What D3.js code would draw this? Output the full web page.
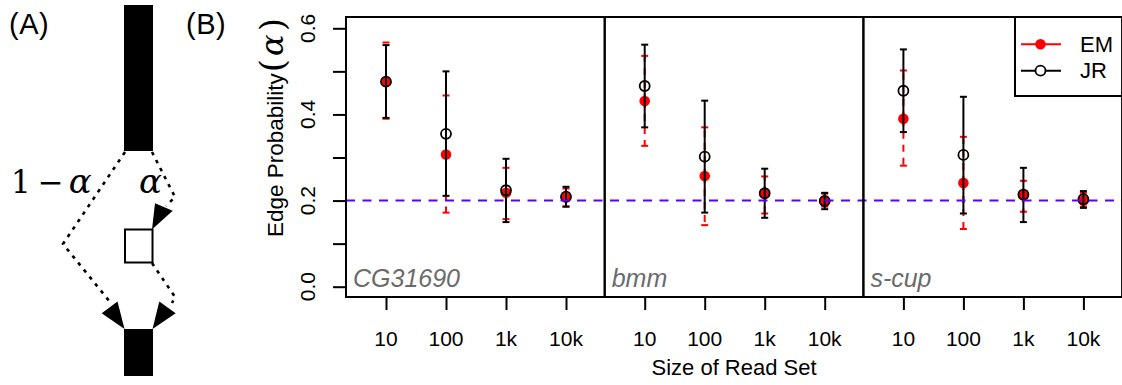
<!DOCTYPE html>
<html><head><meta charset="utf-8">
<script src="https://cdn.jsdelivr.net/npm/d3@7"></script>
<style>body{margin:0;background:#fff}svg{display:block}</style>
</head><body>
<script>
// ---- data ----
const genes = ["CG31690", "bmm", "s-cup"];
const sizes = ["10", "100", "1k", "10k"];
const emMean = [[0.476, 0.307, 0.218, 0.207], [0.431, 0.257, 0.217, 0.199], [0.390, 0.241, 0.212, 0.200]];
const emLow  = [[0.390, 0.172, 0.157, 0.186], [0.327, 0.143, 0.170, 0.186], [0.281, 0.134, 0.174, 0.186]];
const emHigh = [[0.567, 0.444, 0.276, 0.228], [0.536, 0.370, 0.256, 0.216], [0.502, 0.348, 0.246, 0.218]];
const jrMean = [[0.476, 0.355, 0.224, 0.209], [0.466, 0.302, 0.217, 0.199], [0.455, 0.306, 0.214, 0.203]];
const jrLow  = [[0.392, 0.211, 0.150, 0.186], [0.370, 0.172, 0.160, 0.180], [0.359, 0.170, 0.150, 0.183]];
const jrHigh = [[0.561, 0.500, 0.297, 0.232], [0.562, 0.432, 0.274, 0.218], [0.551, 0.441, 0.276, 0.222]];
const yTicks = [0, 0.1, 0.2, 0.3, 0.4, 0.5, 0.6];
const yTickLabels = ["0.0", "", "0.2", "", "0.4", "", "0.6"];
const refValue = 0.2;
const seriesNames = ["EM", "JR"];

// ---- layout ----
const W = 1122, H = 385;
const svg = d3.select("body").append("svg").attr("width", W).attr("height", H);
const plotL = 346, plotT = 17, plotB = 297, panelW = 258.7;
const plotR = plotL + panelW * 3;
const y = d3.scaleLinear().domain([0, 0.6]).range([286.7, 28.3]);
const font = "'Liberation Sans', Arial, Helvetica, sans-serif";
const serif = "'DejaVu Serif', 'Liberation Serif', serif";

// ---- Panel A (schematic) ----
const gA = svg.append("g");
gA.append("text").attr("x", 9).attr("y", 34).attr("font-family", font).attr("font-size", 29)
  .attr("letter-spacing", 0.5).text("(A)");
gA.append("rect").attr("x", 124).attr("y", 5).attr("width", 29).attr("height", 146).attr("fill", "#000");
gA.append("rect").attr("x", 124).attr("y", 329).attr("width", 29).attr("height", 47).attr("fill", "#000");
const dotted = {stroke: "#000", "stroke-width": 2.6, fill: "none", "stroke-dasharray": "3.5,5.5"};
function dl(pts) {
  const p = gA.append("path").attr("d", d3.line()(pts));
  Object.entries(dotted).forEach(([k, v]) => p.attr(k, v));
}
dl([[125, 152], [63, 244], [110, 302]]);
dl([[152, 152], [175, 197], [166, 206]]);
dl([[152, 263], [175, 297], [172, 303]]);
function tri(pts) { gA.append("path").attr("d", d3.line()(pts) + "Z").attr("fill", "#000"); }
tri([[101.7, 313.3], [117.5, 301.5], [124.5, 329]]);
tri([[155, 203.3], [172.7, 210.7], [152, 229.5]]);
tri([[159.3, 301.5], [175.7, 313.3], [152.5, 329]]);
gA.append("rect").attr("x", 125).attr("y", 229.5).attr("width", 27.5).attr("height", 33)
  .attr("fill", "none").attr("stroke", "#000").attr("stroke-width", 2);
const t1 = gA.append("text").attr("x", 11).attr("y", 193).attr("font-family", serif).attr("font-size", 31);
t1.append("tspan").text("1");
t1.append("tspan").attr("dx", 7).text("−");
t1.append("tspan").attr("dx", 5).attr("font-style", "italic").attr("font-size", 34).text("α");
gA.append("text").attr("x", 139).attr("y", 193).attr("font-family", serif).attr("font-size", 34)
  .attr("font-style", "italic").text("α");

// ---- Panel B ----
svg.append("text").attr("x", 186).attr("y", 34).attr("font-family", font).attr("font-size", 29)
  .attr("letter-spacing", 0.5).text("(B)");

// y axis
const yAxis = d3.axisLeft(y).tickValues(yTicks).tickSize(13).tickFormat("");
const ga = svg.append("g").attr("transform", `translate(${plotL},0)`).call(yAxis);
ga.select(".domain").remove();
ga.selectAll("line").attr("stroke", "#000").attr("stroke-width", 2);
svg.append("g").selectAll("text").data(yTicks.filter((d, i) => yTickLabels[i]))
  .join("text")
  .attr("transform", d => `translate(315,${y(d)}) rotate(-90)`)
  .attr("text-anchor", "middle").attr("font-family", font).attr("font-size", 21)
  .text(d => yTickLabels[yTicks.indexOf(d)]);

// y label
const yl = svg.append("text").attr("transform", "translate(283,237) rotate(-90)")
  .attr("font-family", font).attr("font-size", 22.5);
yl.append("tspan").text("Edge Probability");
yl.append("tspan").attr("font-family", serif).attr("font-size", 34).attr("font-weight", 200).attr("dx", 1).attr("dy", 1).text("(");
yl.append("tspan").attr("font-family", serif).attr("font-size", 32).attr("font-style", "italic").attr("dx", 3).attr("dy", -1).text("α");
yl.append("tspan").attr("font-family", serif).attr("font-size", 34).attr("font-weight", 200).attr("dx", 3).attr("dy", 1).text(")");

// x label
svg.append("text").attr("x", (plotL + plotR) / 2).attr("y", 375).attr("text-anchor", "middle")
  .attr("font-family", font).attr("font-size", 22).text("Size of Read Set");

// panels
genes.forEach((g, gi) => {
  const left = plotL + gi * panelW;
  const x = d3.scaleLinear().domain([0, 3]).range([left + 40, left + 220]);
  const xAxis = d3.axisBottom(x).tickValues([0, 1, 2, 3]).tickSize(13).tickFormat("");
  const gx = svg.append("g").attr("transform", `translate(0,${plotB})`).call(xAxis);
  gx.select(".domain").remove();
  gx.selectAll("line").attr("stroke", "#000").attr("stroke-width", 2);
  svg.append("g").selectAll("text").data(sizes).join("text")
    .attr("x", (d, i) => x(i)).attr("y", 345.5).attr("text-anchor", "middle")
    .attr("font-family", font).attr("font-size", 21).text(d => d);

  svg.append("text").attr("x", left + 7).attr("y", 286.5).attr("font-family", font)
    .attr("font-size", 25).attr("font-style", "italic").attr("fill", "#6b6b6b").text(g);

  const idx = d3.range(sizes.length);
  const cap = 3.5;
  // EM error bars (red dashed)
  const em = svg.append("g");
  em.selectAll("line.v").data(idx).join("line").attr("class", "v")
    .attr("x1", i => x(i)).attr("x2", i => x(i))
    .attr("y1", i => y(emMean[gi][i])).attr("y2", i => y(emHigh[gi][i]))
    .attr("stroke", "#ff0000").attr("stroke-width", 2).attr("stroke-dasharray", "7,6");
  em.selectAll("line.v2").data(idx).join("line").attr("class", "v2")
    .attr("x1", i => x(i)).attr("x2", i => x(i))
    .attr("y1", i => y(emMean[gi][i])).attr("y2", i => y(emLow[gi][i]))
    .attr("stroke", "#ff0000").attr("stroke-width", 2).attr("stroke-dasharray", "7,6");
  [emLow, emHigh].forEach(arr => {
    em.selectAll(null).data(idx).join("line")
      .attr("x1", i => x(i) - cap).attr("x2", i => x(i) + cap)
      .attr("y1", i => y(arr[gi][i])).attr("y2", i => y(arr[gi][i]))
      .attr("stroke", "#ff0000").attr("stroke-width", 2);
  });
  em.selectAll("circle").data(idx).join("circle")
    .attr("cx", i => x(i)).attr("cy", i => y(emMean[gi][i])).attr("r", 5.3).attr("fill", "#ff0000");

  // JR error bars (black)
  const jr = svg.append("g");
  jr.selectAll("line.v").data(idx).join("line").attr("class", "v")
    .attr("x1", i => x(i)).attr("x2", i => x(i))
    .attr("y1", i => y(jrLow[gi][i])).attr("y2", i => y(jrHigh[gi][i]))
    .attr("stroke", "#000").attr("stroke-width", 2);
  [jrLow, jrHigh].forEach(arr => {
    jr.selectAll(null).data(idx).join("line")
      .attr("x1", i => x(i) - cap).attr("x2", i => x(i) + cap)
      .attr("y1", i => y(arr[gi][i])).attr("y2", i => y(arr[gi][i]))
      .attr("stroke", "#000").attr("stroke-width", 2);
  });
  jr.selectAll("circle").data(idx).join("circle")
    .attr("cx", i => x(i)).attr("cy", i => y(jrMean[gi][i])).attr("r", 5).attr("fill", "none")
    .attr("stroke", "#000").attr("stroke-width", 1.8);
});

// reference line
svg.append("line").attr("x1", plotL).attr("x2", plotR).attr("y1", y(refValue)).attr("y2", y(refValue))
  .attr("stroke", "#5a00ff").attr("stroke-width", 2).attr("stroke-dasharray", "9,7.5");

// frames
genes.forEach((g, gi) => {
  svg.append("rect").attr("x", plotL + gi * panelW).attr("y", plotT).attr("width", panelW)
    .attr("height", plotB - plotT).attr("fill", "none").attr("stroke", "#000").attr("stroke-width", 2);
});

// legend
const lg = svg.append("g");
lg.append("rect").attr("x", 1015).attr("y", plotT).attr("width", plotR - 1015).attr("height", 96 - plotT)
  .attr("fill", "#fff").attr("stroke", "#000").attr("stroke-width", 2);
const legY = [44.3, 70.7];
const legCol = ["#ff0000", "#000"];
seriesNames.forEach((s, i) => {
  lg.append("line").attr("x1", 1021).attr("x2", 1061).attr("y1", legY[i]).attr("y2", legY[i])
    .attr("stroke", legCol[i]).attr("stroke-width", 2);
  if (i === 0) lg.append("circle").attr("cx", 1040.5).attr("cy", legY[i]).attr("r", 5.3).attr("fill", legCol[i]);
  else lg.append("circle").attr("cx", 1040.5).attr("cy", legY[i]).attr("r", 5).attr("fill", "#fff")
    .attr("stroke", "#000").attr("stroke-width", 1.8);
  lg.append("text").attr("x", 1080).attr("y", legY[i] + 7.5).attr("font-family", font).attr("font-size", 22).text(s);
});
</script>
</body></html>
